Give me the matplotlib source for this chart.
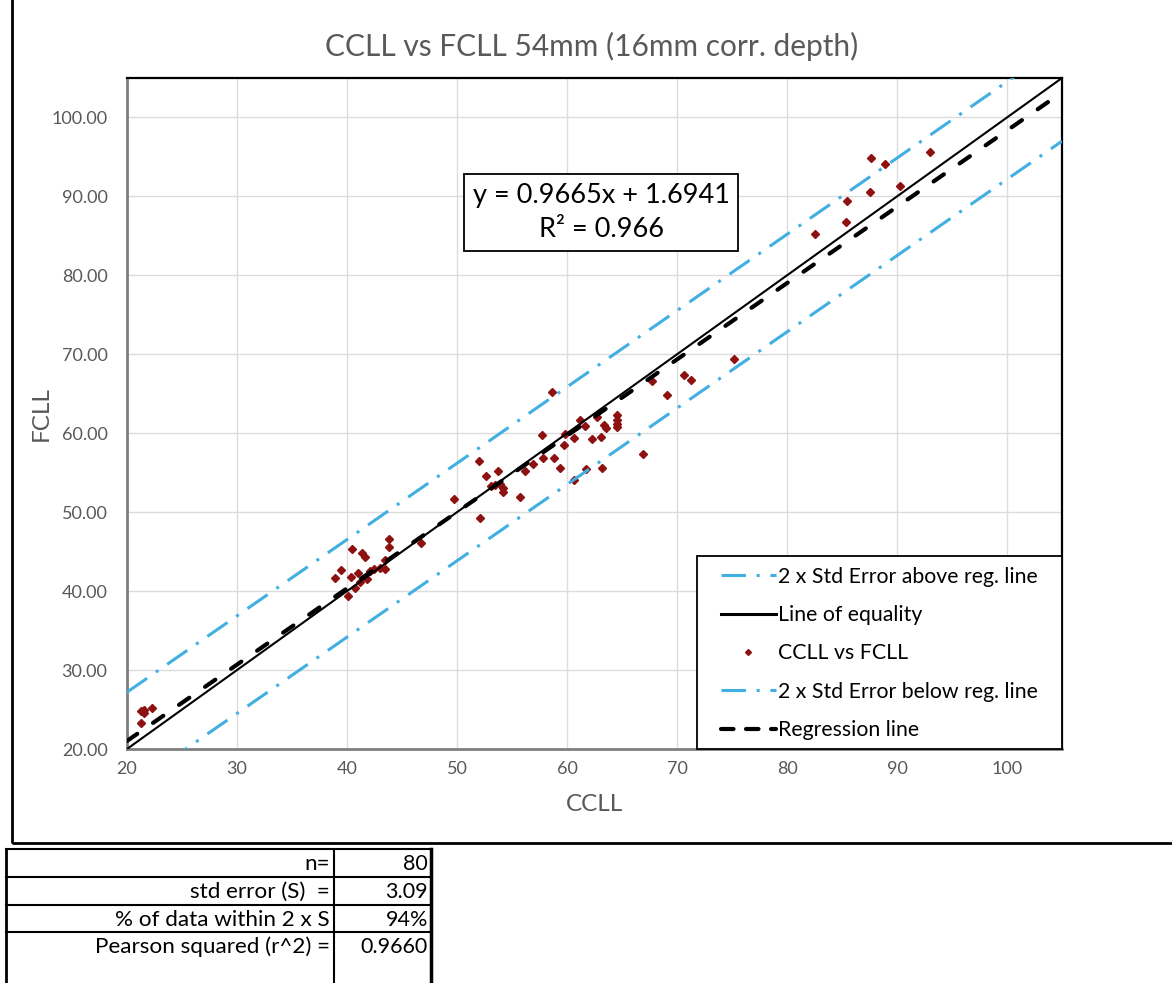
import numpy as np
import matplotlib
matplotlib.use("Agg")
import matplotlib.pyplot as plt
from matplotlib.lines import Line2D
from matplotlib.patches import Rectangle

plt.rcParams["font.family"] = ["Lato", "DejaVu Sans"]

# ---- data --------------------------------------------------------------
ccll = [21.27, 21.57, 21.5, 22.27, 21.27,
        38.94, 39.45, 40.45, 41.36, 41.66, 40.39, 40.96, 40.05, 40.75, 41.15,
        41.82, 42.05, 42.42, 42.96, 43.48, 43.48, 43.79, 43.79, 46.73,
        49.7, 52.06, 52.0, 52.66, 53.69, 53.09, 53.48, 53.87, 54.18, 54.18,
        55.75, 56.2, 56.9, 57.8, 58.8, 59.4, 57.73, 59.75, 59.85, 60.6, 58.6,
        60.6,
        61.2, 61.66, 62.27, 63.1, 63.33, 63.55, 62.7, 64.5, 64.5, 64.5, 64.5,
        61.75, 63.18, 66.87, 67.7,
        69.1, 70.66, 71.3, 75.2, 82.57, 85.4, 85.45, 87.57, 87.6, 88.9, 90.3,
        92.96]
fcll = [24.85, 24.94, 24.5, 25.2, 23.25,
        41.6, 42.7, 45.3, 44.85, 44.27, 41.8, 42.3, 39.37, 40.34, 41.2,
        41.5, 42.57, 42.86, 42.95, 44.0, 42.86, 46.54, 45.6, 46.04,
        51.7, 49.28, 56.45, 54.56, 55.2, 53.3, 53.4, 53.54, 53.1, 52.57,
        51.94, 55.2, 56.08, 56.87, 56.87, 55.6, 59.75, 58.5, 59.96, 59.4, 65.2,
        54.05,
        61.7, 60.9, 59.24, 59.46, 61.0, 60.7, 62.0, 62.3, 61.65, 61.2, 60.8,
        55.44, 55.6, 57.4, 66.6,
        64.9, 67.4, 66.7, 69.45, 85.3, 86.8, 89.4, 90.55, 94.9, 94.05, 91.27,
        95.6]

line_x = [20, 105]
equality_y = [20, 105]
regression_y = [21.02, 103.18]
upper_y = [27.20, 109.36]
lower_y = [14.84, 97.00]

x_ticks = [20, 30, 40, 50, 60, 70, 80, 90, 100]
y_ticks = [20, 30, 40, 50, 60, 70, 80, 90, 100]

table_labels = ["n=", "std error (S)  =", "% of data within 2 x S",
                "Pearson squared (r^2) ="]
table_values = ["80", "3.09", "94%", "0.9660"]

# ---- colours -----------------------------------------------------------
C_BLUE = "#41AFE2"
C_PT = "#8E1111"
C_GREY = "#595959"
C_GRID = "#DCDCDC"

W, H = 1172, 983
fig = plt.figure(figsize=(W / 100, H / 100), dpi=100)


def fx(px):
    return px / W


def fy(py):
    return 1 - py / H


ax = fig.add_axes([fx(127), fy(749), fx(1062) - fx(127), fy(78) - fy(749)])

ax.plot(line_x, upper_y, color=C_BLUE, lw=2.2, dashes=(8, 3.5, 1, 3.5),
        zorder=3)
ax.plot(line_x, equality_y, color="black", lw=1.5, zorder=4)
ax.plot(ccll, fcll, ls="none", marker="D", ms=3.9, color=C_PT, zorder=2)
ax.plot(line_x, lower_y, color=C_BLUE, lw=2.2, dashes=(8, 3.5, 1, 3.5),
        zorder=3)
ax.plot(line_x, regression_y, color="black", lw=3.0, dashes=(3, 4.6),
        dash_capstyle="round", zorder=5)

ax.set_xlim(20, 105)
ax.set_ylim(20, 105)
ax.set_xticks(x_ticks)
ax.set_yticks(y_ticks)
ax.set_yticklabels([f"{v:.2f}" for v in y_ticks])
ax.tick_params(length=0, labelsize=13, labelcolor=C_GREY)
ax.tick_params(axis="y", pad=14)
ax.tick_params(axis="x", pad=9)
ax.grid(True, color=C_GRID, lw=1.0)
ax.set_axisbelow(True)
for side in ["top", "right"]:
    ax.spines[side].set_color("black")
    ax.spines[side].set_linewidth(1.6)
for side in ["left", "bottom"]:
    ax.spines[side].set_color("#7F7F7F")
    ax.spines[side].set_linewidth(2.0)

ax.set_xlabel("CCLL", fontsize=17.5, color=C_GREY, labelpad=12)
ax.set_ylabel("FCLL", fontsize=17.5, color=C_GREY, labelpad=0)
fig.text(fx(592), fy(46), "CCLL vs FCLL 54mm (16mm corr. depth)",
         ha="center", va="center", fontsize=21.5, color=C_GREY)

# regression equation box
ax.text(0.507, 0.799, "y = 0.9665x + 1.6941\nR\u00b2 = 0.966",
        transform=ax.transAxes, ha="center", va="center", fontsize=19.5,
        linespacing=1.45,
        bbox=dict(facecolor="white", edgecolor="black", lw=1.3,
                  boxstyle="square,pad=0.33"))

# legend: frame drawn separately so it can carry Excel-like padding
handles = [
    Line2D([], [], color=C_BLUE, lw=2.2, dashes=(8, 3.5, 1, 3.5)),
    Line2D([], [], color="black", lw=2.2),
    Line2D([], [], ls="none", marker="D", ms=3.0, color=C_PT),
    Line2D([], [], color=C_BLUE, lw=2.2, dashes=(8, 3.5, 1, 3.5)),
    Line2D([], [], color="black", lw=3.0, dashes=(3, 3), dash_capstyle="round"),
]
labels = ["2 x Std Error above reg. line", "Line of equality", "CCLL vs FCLL",
          "2 x Std Error below reg. line", "Regression line"]
ax.add_patch(Rectangle((fx(697), fy(749)), fx(1062) - fx(697),
                       fy(556) - fy(749), transform=fig.transFigure,
                       facecolor="white", edgecolor="black", lw=1.3,
                       zorder=9, clip_on=False))
leg = ax.legend(handles, labels, loc="lower right",
                bbox_to_anchor=(fx(1038), fy(740)),
                bbox_transform=fig.transFigure, borderaxespad=0,
                fontsize=15.3, frameon=False, handlelength=2.6,
                handletextpad=0.1, labelspacing=0.86, borderpad=0)
leg.set_zorder(10)

# outer chart border (left and bottom edges visible)
fig.patches.append(Rectangle((fx(12), fy(843)), fx(1180) - fx(12),
                             fy(-5) - fy(843), transform=fig.transFigure,
                             fill=False, ec="black", lw=2.0))

# summary table under the chart
col_l, col_m, col_r = 6, 334, 431
row_tops = [849, 877, 905, 932]
for i, (lab, val) in enumerate(zip(table_labels, table_values)):
    top = row_tops[i]
    fig.add_artist(Line2D([fx(col_l), fx(col_r)], [fy(top), fy(top)],
                          color="black", lw=1.5))
    cy = top + 15
    fig.text(fx(col_m - 4), fy(cy), lab, ha="right", va="center",
             fontsize=16.2, color="black")
    fig.text(fx(col_r - 3), fy(cy), val, ha="right", va="center",
             fontsize=15.5, color="black")
for cx, lw in [(col_l, 2.0), (col_m, 1.5), (col_r, 2.5)]:
    fig.add_artist(Line2D([fx(cx), fx(cx)], [fy(849), fy(H)], color="black",
                          lw=lw))

fig.savefig("out.png", dpi=100)
